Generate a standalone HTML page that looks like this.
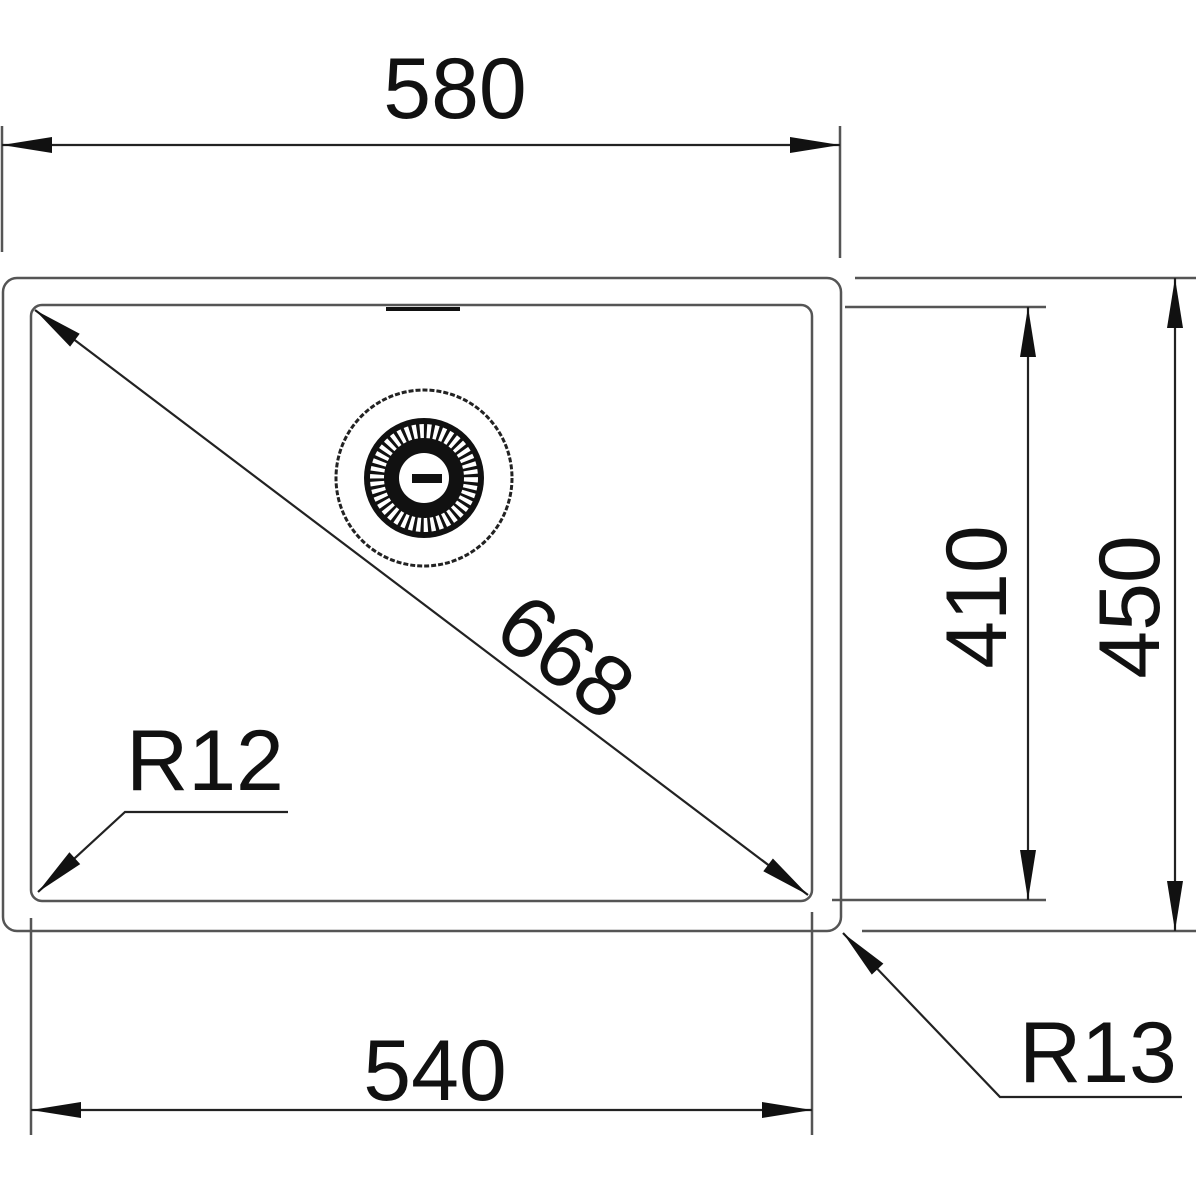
<!DOCTYPE html>
<html><head><style>
html,body{margin:0;padding:0;background:#fff;}
svg{display:block;}
text{font-family:"Liberation Sans",Arial,sans-serif;font-size:86px;fill:#111;}
</style></head><body>
<svg width="1200" height="1200" viewBox="0 0 1200 1200" xmlns="http://www.w3.org/2000/svg">
<g fill="none" stroke="#555" stroke-width="2.5">
<rect x="3" y="278" width="838" height="653" rx="14"/>
<rect x="31" y="305" width="781" height="596" rx="11"/>
<line x1="2" y1="126" x2="2" y2="252"/>
<line x1="840" y1="126" x2="840" y2="258"/>
<line x1="855" y1="278" x2="1196" y2="278"/>
<line x1="845" y1="307" x2="1046" y2="307"/>
<line x1="832" y1="900" x2="1046" y2="900"/>
<line x1="862" y1="931" x2="1196" y2="931"/>
<line x1="31" y1="918" x2="31" y2="1135"/>
<line x1="812" y1="912" x2="812" y2="1135"/>
</g>
<g stroke="#222" stroke-width="2.2" fill="none">
<line x1="2" y1="145" x2="840" y2="145"/>
<line x1="31" y1="1110" x2="812" y2="1110"/>
<line x1="1028" y1="307" x2="1028" y2="900"/>
<line x1="1175" y1="278" x2="1175" y2="931"/>
<line x1="35" y1="310" x2="808" y2="895"/>
<polyline points="288,812 125,812 38,892"/>
<polyline points="1182,1097 1000,1097 843,933"/>
</g>
<g fill="#111">
<polygon points="2,145 52,137 52,153"/>
<polygon points="840,145 790,137 790,153"/>
<polygon points="31,1110 81,1102 81,1118"/>
<polygon points="812,1110 762,1102 762,1118"/>
<polygon points="1028,307 1020,357 1036,357"/>
<polygon points="1028,900 1020,850 1036,850"/>
<polygon points="1175,278 1167,328 1183,328"/>
<polygon points="1175,931 1167,881 1183,881"/>
<polygon points="35,310 70.1,346.6 79.7,333.8"/>
<polygon points="808,895 763.3,871.3 772.9,858.5"/>
<polygon points="38,892 80.2,864.1 69.4,852.3"/>
<polygon points="843,933 883.4,963.6 871.8,974.6"/>
</g>
<line x1="386" y1="309" x2="460" y2="309" stroke="#111" stroke-width="4"/>
<g transform="translate(424,478)">
<circle r="88" fill="none" stroke="#222" stroke-width="3" stroke-dasharray="5 2"/>
<circle r="60" fill="#111"/>
<circle r="47" fill="none" stroke="#fff" stroke-width="14" stroke-dasharray="4 3"/>
<circle r="25" fill="#fff"/>
<rect x="-12" y="-4" width="30" height="9" fill="#111"/>
</g>
<text x="455" y="118" text-anchor="middle">580</text>
<text x="435" y="1100" text-anchor="middle">540</text>
<text x="205" y="790" text-anchor="middle">R12</text>
<text x="1098" y="1082" text-anchor="middle">R13</text>
<text transform="translate(1006,597) rotate(-90)" text-anchor="middle">410</text>
<text transform="translate(1159,607) rotate(-90)" text-anchor="middle">450</text>
<text transform="translate(548,680) rotate(37)" text-anchor="middle">668</text>
</svg>
</body></html>
